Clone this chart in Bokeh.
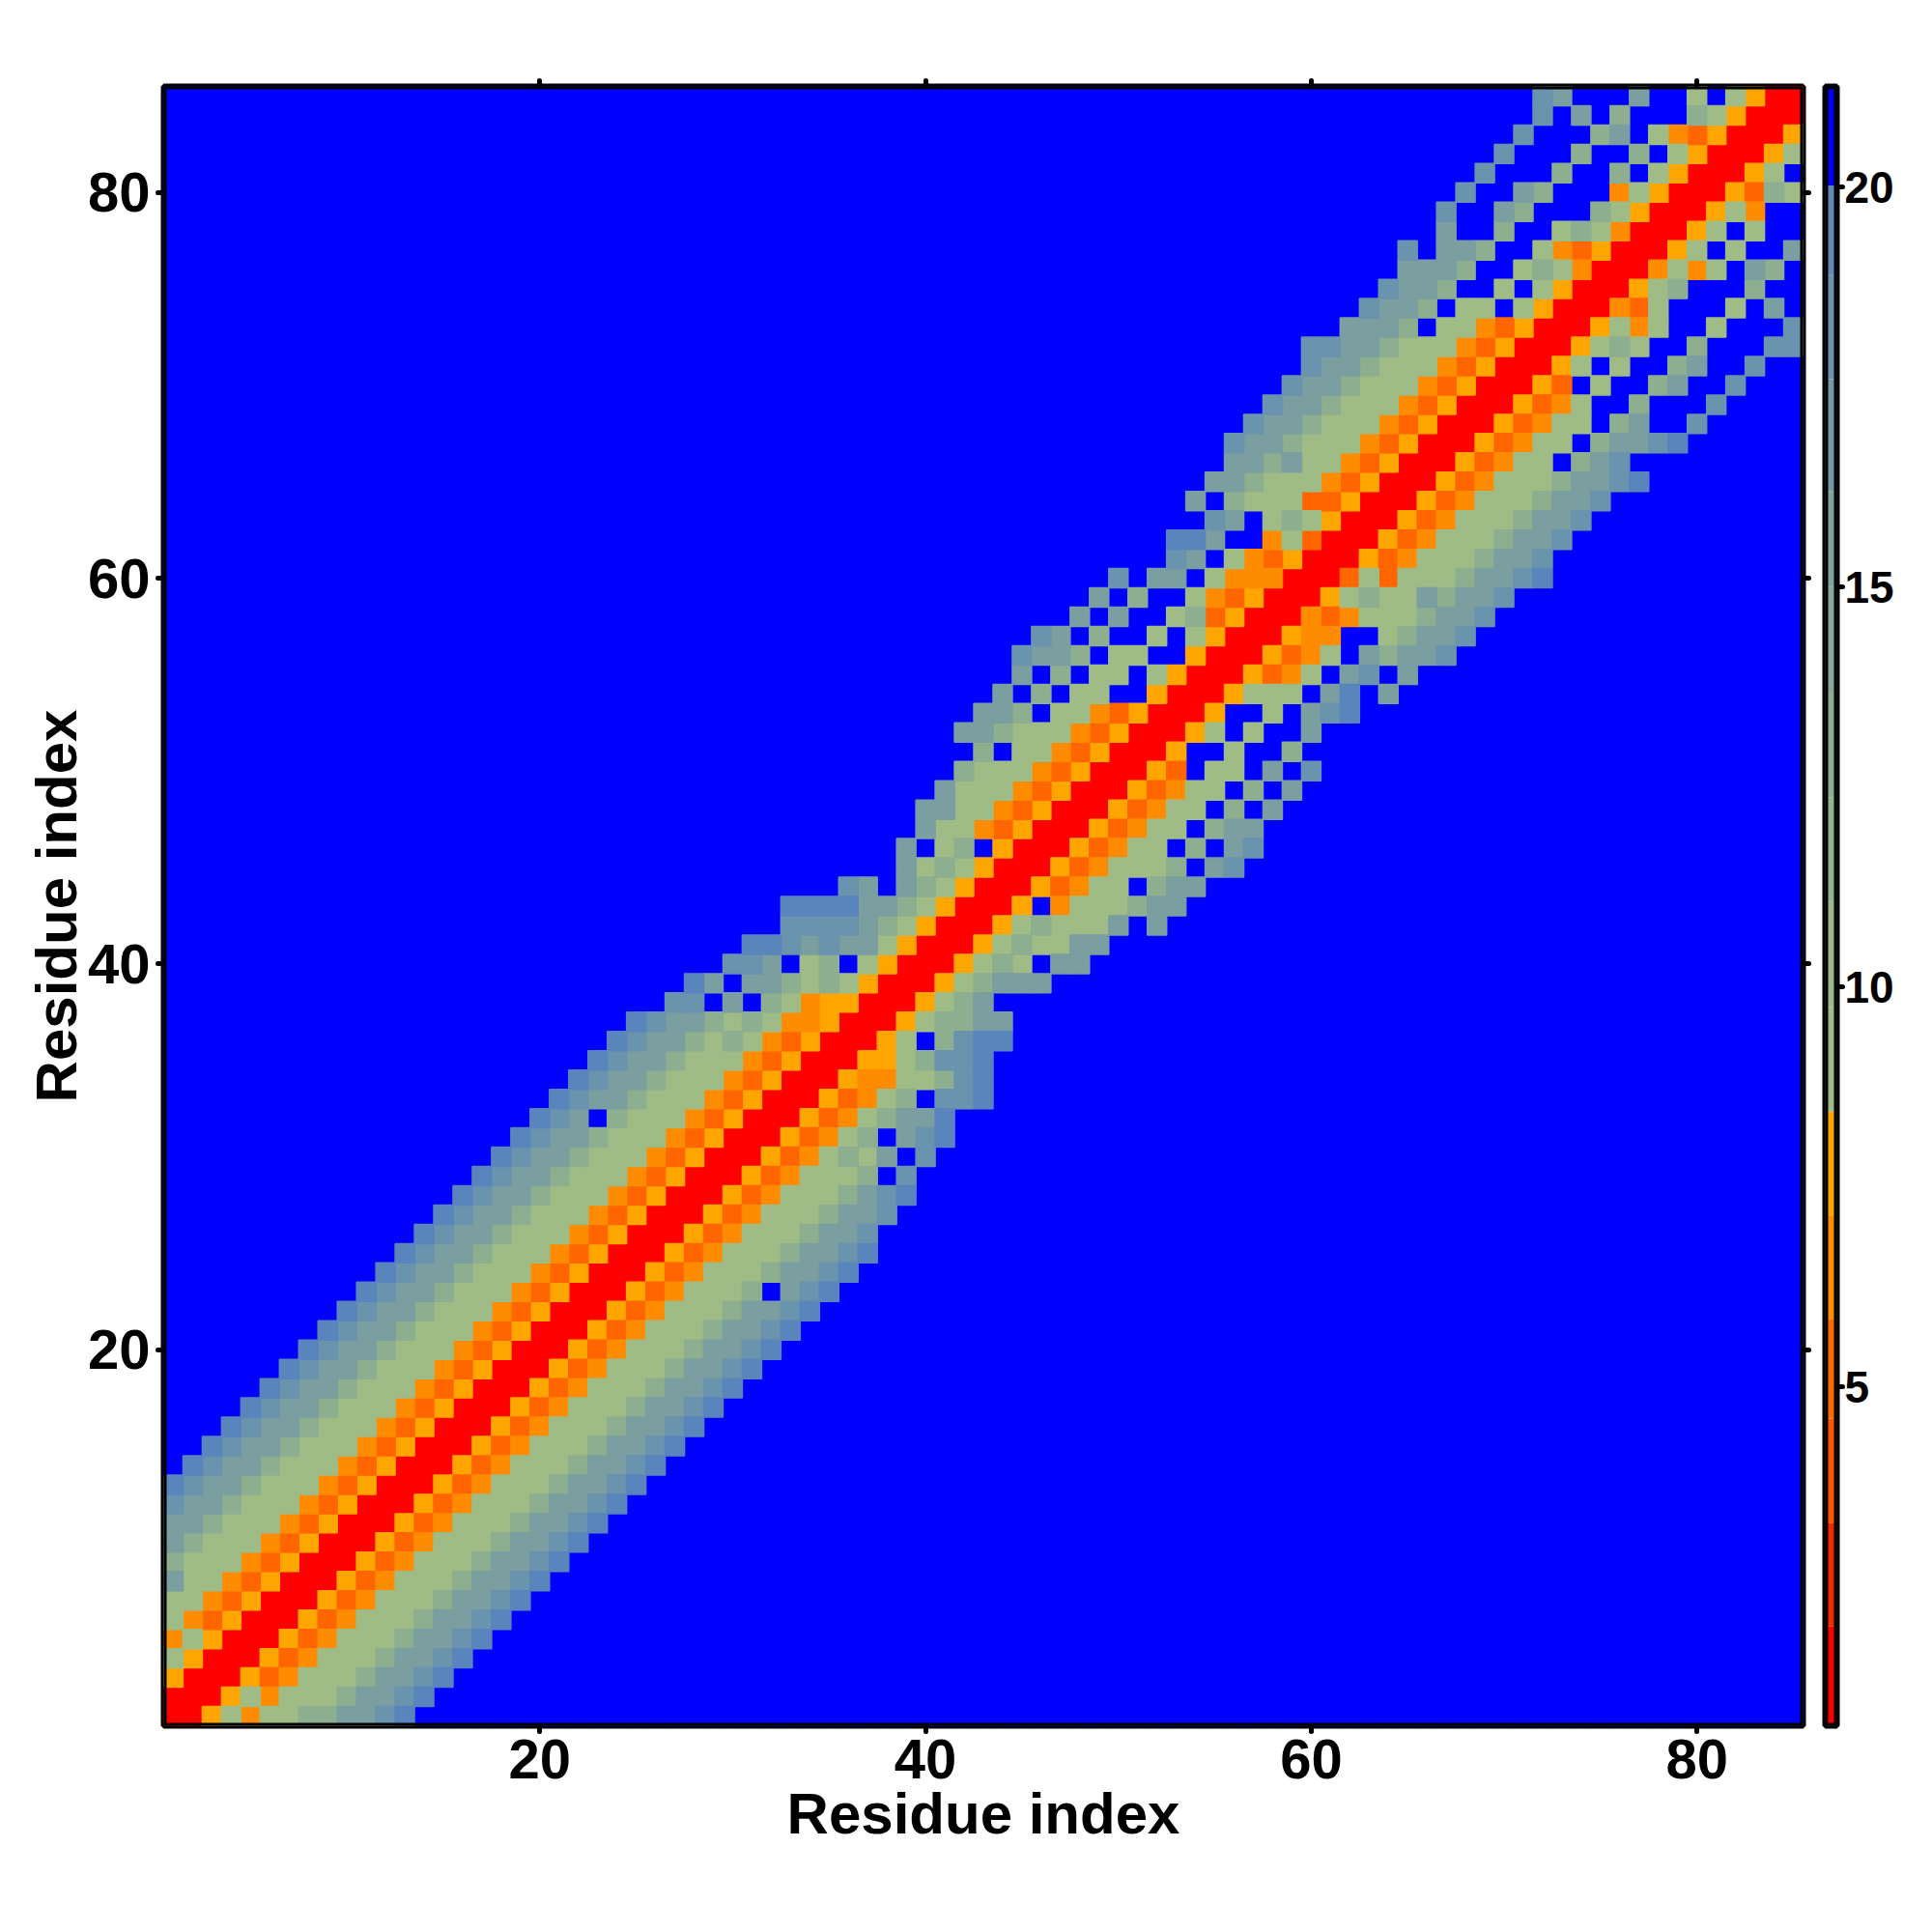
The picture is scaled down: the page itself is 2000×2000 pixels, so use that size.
from bokeh.plotting import figure
from bokeh.layouts import row
from bokeh.models import FixedTicker, LinearAxis, Range1d
from bokeh.embed import file_html
from bokeh.resources import INLINE

N = 85
TICKS = [20, 40, 60, 80]
CB_TICKS = [5, 10, 15, 20]
AXIS_TITLE = "Residue index"
FONT = "Liberation Sans"

# colour class of each cell
CELL_COLOURS = {".": "#0000FF", "r": "#FF0000", "a": "#FFA500", "d": "#FF6600", "m": "#FF8C00",
                "g": "#A0BC86", "h": "#8EAE90", "s": "#7B9EA0", "t": "#6A93AE", "u": "#5985BC"}

# matrix rows, bottom to top: (row, first coloured column, classes); all else is "."
ROWS = [
 (1, 1, "rragmgghhsstu"),
 (2, 1, "rrragmggghsstu"),
 (3, 1, "arrradmggghsstu"),
 (4, 1, "garrradmggghsstu"),
 (5, 1, "mgarrradmggghsstu"),
 (6, 1, "gmdarrradmggghsstu"),
 (7, 1, "ggmdarrradmggghsstu"),
 (8, 1, "sggmdarrradmggghsstu"),
 (9, 1, "hgggmdarrradmggghsstu"),
 (10, 1, "shgggmdarrradmggghsstu"),
 (11, 1, "sshgggmdarrradmggghsstu"),
 (12, 1, "tsshgggmdarrradmggghsstu"),
 (13, 1, "utsshgggmdarrradmggghsstu"),
 (14, 2, "utsshgggmdarrradmggghsstu"),
 (15, 3, "utsshgggmdarrradmggghsstu"),
 (16, 4, "utsshgggmdarrradmggghsstu"),
 (17, 5, "utsshgggmdarrradmggghsstu"),
 (18, 6, "utsshgggmdarrradmggghsstu"),
 (19, 7, "utsshgggmdarrradmggghsstu"),
 (20, 8, "utsshgggmdarrradmggghsstu"),
 (21, 9, "utsshgggmdarrradmggghsstu"),
 (22, 10, "utsshgggmdarrradmggghsstu"),
 (23, 11, "utsshgggmdarrradmgggh.stu"),
 (24, 12, "utsshgggmdarrradmggghsstu"),
 (25, 13, "utsshgggmdarrradmggghsstu"),
 (26, 14, "utsshgggmdarrradmggghsst"),
 (27, 15, "utsshgggmdarrradmggghsst"),
 (28, 16, "utsshgggmdarrradmggghstu"),
 (29, 17, "utsshgggmdarrradmgggh.t"),
 (30, 18, "utsshgggmdarrradmghgs.t"),
 (31, 19, "utsshgggmdarrradmgh.stu"),
 (32, 20, "uts.hgggmdarrradmghssu"),
 (33, 21, "utsshgggmdarrradmgh.ttu"),
 (34, 22, "utsshgggmdarrrammgghtu"),
 (35, 23, "utsshgggmdarrraaghttu"),
 (36, 24, "utsshghgmdarrrag.htuu"),
 (37, 25, "utsshghgmmarrraghhss"),
 (38, 27, "tt.s.hgmaarrraghs"),
 (39, 28, "us.sshghgarrraghsss"),
 (40, 30, "tts.gh.garrraghg.ss"),
 (41, 31, "uutstssgarrraghggss"),
 (42, 33, "ttttshgarrraghgggs.s"),
 (43, 33, "uuuusshgarrra.mggghss"),
 (44, 36, "ts.shgarrradmgg.hss"),
 (45, 39, "sghgarrradmgggh.st"),
 (46, 39, "s.gh.arrradmgg.h.st"),
 (47, 40, "sggmdarrradmgg.hss"),
 (48, 40, "ssggmdarrradmgg.h.s"),
 (49, 41, "sgggmdarrradmgg.h.s"),
 (50, 42, "hgggmdarrrad.gg.s.t"),
 (51, 43, "h.ggmdarrra..g..h"),
 (52, 42, "sshgggmdarrrag.g..s"),
 (53, 43, "ssh.ggmdarrra..g.stu"),
 (54, 44, "s.h.gg..arrraggg.su.s"),
 (55, 45, "s.h.gg.garrradmg.st.s"),
 (56, 45, "tssh.gg..arrradmg.shsst"),
 (57, 46, "ts.h..g.garrramm..ghsst"),
 (58, 48, "s.s..ghdarrrmdmggghsst"),
 (59, 49, "s.h..gmdarrraghggshsst"),
 (60, 50, "t.ss.gmmmrrrdgdggghsstu"),
 (61, 53, "ts.gmdarrradmggghsst"),
 (62, 53, "uus..mgdrrradmggghsst"),
 (63, 55, "ts.ghgarrradmggghsst"),
 (64, 54, "s.hgggddarrradmggghsst"),
 (65, 55, "sshgggmdarrradmggghsstu"),
 (66, 56, "sshsggmdarrradmgg.hst"),
 (67, 56, "tsshgggmdarrradmgg.hsstu"),
 (68, 57, "tsshgggmdarrradmgg.hs..t"),
 (69, 58, "tsshgggmdarrradmg..h...t"),
 (70, 59, "tsshgggmdarrrad.g..hs..t"),
 (71, 60, "tsshgggmdarrrag.g..hs..t"),
 (72, 60, "ttsshgggmdarrraghg..h...tt"),
 (73, 62, "sssh.ggmdarrragmg..g...t"),
 (74, 63, "tssh.gg.garrrmdg...g.s"),
 (75, 64, "tssh..g.garrragh...h"),
 (76, 65, "sssh..ghgmrrrmgmg.sh"),
 (77, 65, "t.ssh..gmdarrrag.g..s"),
 (78, 67, "s..h..ghgmrrrag.g"),
 (79, 67, "t..sh...hgarrragm"),
 (80, 68, "t..sh...mgarrradhg"),
 (81, 69, "t...h..h.garrrag"),
 (82, 70, "t...h..h.garrrag"),
 (83, 71, "t...hs.gmdarrra"),
 (84, 72, "t.s.h...hgarrr"),
 (85, 72, "ts...s..g.garr"),
]

# colour bar bands
CB_EDGES = [0.76, 2.0, 3.3, 4.6, 5.85, 7.14, 8.44, 9.75, 11.06, 12.37, 13.68, 15.0, 16.2, 17.6, 18.9, 20.02, 21.26]
CB_COLOURS = ["#FF0000", "#F02A00", "#FF5500", "#FF6A00", "#FF8C00", "#FFA500", "#A0BC86", "#9CB889",
              "#94B28D", "#8CAC93", "#86A898", "#80A39D", "#7398A8", "#6B92AF", "#6189B5", "#0000FF"]

grid = {}
for r, first, cells in ROWS:
    for i, code in enumerate(cells):
        grid[(first + i, r)] = code

p = figure(frame_width=1697, frame_height=1697, x_range=Range1d(0.5, 85.5), y_range=Range1d(0.5, 85.5),
           output_backend="svg", toolbar_location=None, tools="",
           min_border_left=169, min_border_right=14, min_border_top=89, min_border_bottom=126,
           background_fill_color="#0000FF", border_fill_color="white",
           outline_line_color="black", outline_line_width=6)
p.grid.visible = False

for code, colour in CELL_COLOURS.items():
    xs, ys = [], []
    for r in range(1, N + 1):
        for c in range(1, N + 1):
            if grid.get((c, r), ".") == code:
                xs.append(c)
                ys.append(r)
    p.rect(x=xs, y=ys, width=1, height=1, fill_color=colour, line_color=colour, line_width=1.5)

# inner half of the frame line, over the cells
p.quad(left=[0.5], right=[85.5], bottom=[0.5], top=[85.5], fill_color=None, line_color="black", line_width=6)

def style(ax, labels=True, size="58px", standoff=6):
    ax.ticker = FixedTicker(ticks=TICKS)
    ax.axis_line_color = None
    ax.minor_tick_line_color = None
    ax.major_tick_in = 0
    ax.major_tick_out = 6
    ax.major_tick_line_width = 5
    ax.major_tick_line_cap = "round"
    ax.major_tick_line_color = "black"
    if labels:
        ax.major_label_text_font = FONT
        ax.major_label_text_font_style = "bold"
        ax.major_label_text_font_size = size
        ax.major_label_text_color = "black"
        ax.major_label_standoff = standoff
        ax.axis_label_text_font = FONT
        ax.axis_label_text_font_style = "bold"
        ax.axis_label_text_font_size = "60px"
        ax.axis_label_text_color = "black"
    else:
        ax.major_label_text_font_size = "0px"
        ax.major_label_text_color = None

style(p.xaxis[0], standoff=8)
style(p.yaxis[0], standoff=8)
p.xaxis[0].axis_label = AXIS_TITLE
p.yaxis[0].axis_label = AXIS_TITLE
p.xaxis[0].axis_label_standoff = 0
p.yaxis[0].axis_label_standoff = -4

top = LinearAxis()
style(top, labels=False)
p.add_layout(top, "above")
right = LinearAxis()
style(right, labels=False)
p.add_layout(right, "right")

cb = figure(frame_width=12, frame_height=1697, x_range=Range1d(0, 1), y_range=Range1d(CB_EDGES[0], CB_EDGES[-1]),
            output_backend="svg", toolbar_location=None, tools="", y_axis_location="right",
            min_border_left=9, min_border_right=75, min_border_top=89, min_border_bottom=126,
            outline_line_color="black", outline_line_width=6, border_fill_color="white")
cb.grid.visible = False
cb.xaxis.visible = False
cb.quad(left=0, right=1, bottom=CB_EDGES[:-1], top=CB_EDGES[1:], fill_color=CB_COLOURS, line_color=None)
cb.quad(left=[0], right=[1], bottom=[CB_EDGES[0]], top=[CB_EDGES[-1]], fill_color=None, line_color="black", line_width=6)
style(cb.yaxis[0], size="46px", standoff=2)
cb.yaxis[0].ticker = FixedTicker(ticks=CB_TICKS)

layout = row(p, cb, spacing=0)
open("out.html", "w").write(file_html(layout, INLINE))
